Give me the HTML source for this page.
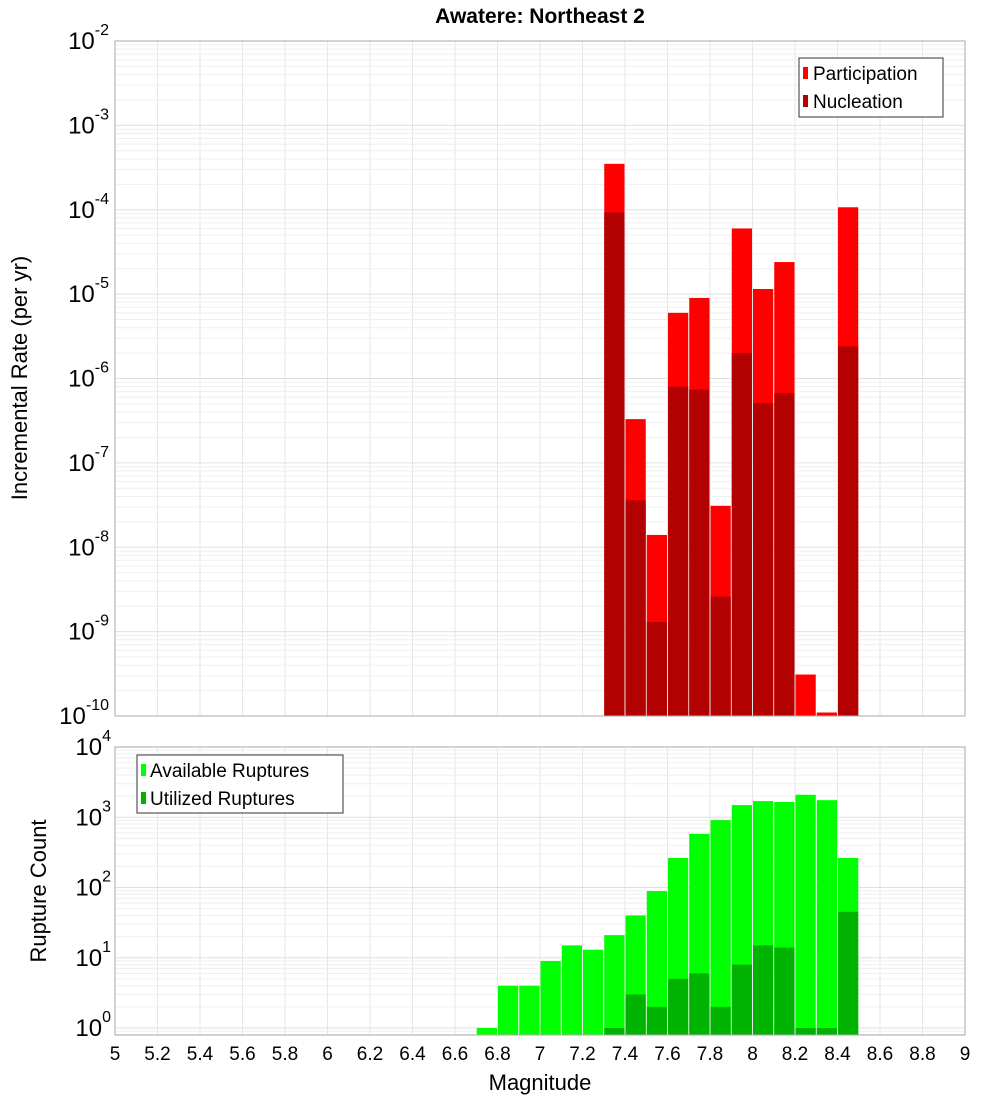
<!DOCTYPE html>
<html><head><meta charset="utf-8"><style>
body{margin:0;background:#fff;width:1000px;height:1100px;overflow:hidden}
svg{font-family:"Liberation Sans","DejaVu Sans",sans-serif}
</style></head><body>
<svg id="c" width="1000" height="1100" xmlns="http://www.w3.org/2000/svg">
<text x="540" y="23" text-anchor="middle" font-size="21" font-weight="bold">Awatere: Northeast 2</text>
<text transform="translate(27,378) rotate(-90)" text-anchor="middle" font-size="22">Incremental Rate (per yr)</text>
<text transform="translate(46,891) rotate(-90)" text-anchor="middle" font-size="22">Rupture Count</text>
<text x="540" y="1090" text-anchor="middle" font-size="22">Magnitude</text>
<g id="g"></g>
</svg>
<script>
const mags=[7.35,7.45,7.55,7.65,7.75,7.85,7.95,8.05,8.15,8.25,8.35,8.45];
const participation=[3.5e-4,3.3e-7,1.4e-8,6e-6,9e-6,3.1e-8,6e-5,1.15e-5,2.4e-5,3.1e-10,1.1e-10,1.07e-4];
const nucleation=[9.3e-5,3.6e-8,1.3e-9,8e-7,7.4e-7,2.6e-9,2e-6,5.1e-7,6.7e-7,0,0,2.4e-6];
const cmags=[6.75,6.85,6.95,7.05,7.15,7.25,7.35,7.45,7.55,7.65,7.75,7.85,7.95,8.05,8.15,8.25,8.35,8.45];
const available=[1,4,4,9,15,13,21,40,89,263,580,910,1490,1700,1650,2090,1750,263];
const utilized=[0,0,0,0,0,0,1,3,2,5,6,2,8,15,14,1,1,45];
const xTicks=[5,5.2,5.4,5.6,5.8,6,6.2,6.4,6.6,6.8,7,7.2,7.4,7.6,7.8,8,8.2,8.4,8.6,8.8,9];
const topTicks=[-2,-3,-4,-5,-6,-7,-8,-9,-10];
const botTicks=[0,1,2,3,4];

const NS="http://www.w3.org/2000/svg",g=document.getElementById('g');
const L=115,R=965;
const x=m=>L+(m-5)/4*(R-L);
const T0=41,T1=716;
const yT=v=>T0+(-2-Math.log10(v))*(T1-T0)/8;
const B0=747,B1=1035;
const yB=v=>1028-Math.log10(v)*70.25;
function el(t,a,name,txt){const e=document.createElementNS(NS,t);for(const k in a)e.setAttribute(k,a[k]);


if(txt!==undefined)e.textContent=txt;g.appendChild(e);return e;}
// plot backgrounds & grids
function grid(y0,y1,yf,decLo,decHi,name){
  for(const t of xTicks){el('line',{x1:x(t),x2:x(t),y1:y0,y2:y1,stroke:'#e6e6e6','stroke-width':1},name+'-vgrid');}
  for(let d=decLo;d<decHi;d++){for(let k=1;k<10;k++){const yy=yf(k*Math.pow(10,d));if(yy>=y0&&yy<=y1)el('line',{x1:L,x2:R,y1:yy,y2:yy,stroke:k==1?'#e0e0e0':'#efefef','stroke-width':1},name+'-hgrid');}}
}
grid(T0,T1,yT,-10,-2,'top');
grid(B0,B1,yB,-1,4,'bottom');
// top bars
const bw=(R-L)/40;
mags.forEach((m,i)=>{
  const xl=x(m)-bw/2+0.5,w=bw-1;
  if(participation[i]>0){const yy=Math.max(yT(participation[i]),T0);el('rect',{x:xl,y:yy,width:w,height:T1-yy,fill:'#ff0000'},'participation-bar');}
  if(nucleation[i]>0){const yy=Math.max(yT(nucleation[i]),T0);el('rect',{x:xl,y:yy,width:w,height:T1-yy,fill:'#b30000'},'nucleation-bar');}
});
cmags.forEach((m,i)=>{
  const xl=x(m)-bw/2+0.5,w=bw-1;
  if(available[i]>0){const yy=yB(available[i]);el('rect',{x:xl,y:yy,width:w,height:B1-yy,fill:'#00ff00'},'available-bar');}
  if(utilized[i]>0){const yy=yB(utilized[i]);el('rect',{x:xl,y:yy,width:w,height:B1-yy,fill:'#00b300'},'utilized-bar');}
});
el('rect',{x:L,y:T0,width:R-L,height:T1-T0,fill:'none',stroke:'#aaa'},'top-plot-frame');
el('rect',{x:L,y:B0,width:R-L,height:B1-B0,fill:'none',stroke:'#aaa'},'bottom-plot-frame');
// ticks labels
topTicks.forEach(t=>{const yy=yT(Math.pow(10,t));const tx=el('text',{x:L-6,y:yy+8,'text-anchor':'end','font-size':24},'top-y-tick-label');
 tx.innerHTML='10<tspan dy="-14" font-size="16">'+t+'</tspan>';});
botTicks.forEach(t=>{const yy=yB(Math.pow(10,t));const tx=el('text',{x:L-4,y:yy+8,'text-anchor':'end','font-size':24},'bottom-y-tick-label');
 tx.innerHTML='10<tspan dy="-14" font-size="16">'+t+'</tspan>';});
xTicks.forEach(t=>{el('text',{x:x(t),y:1060,'text-anchor':'middle','font-size':19},'x-tick-label',String(t));});
// legends
el('rect',{x:799,y:58,width:144,height:59,fill:'#fff',stroke:'#333'},'top-legend');
el('rect',{x:803,y:67,width:5,height:12,fill:'#ff0000'},'legend-participation-swatch');
el('text',{x:813,y:80,'font-size':19},'legend-participation','Participation');
el('rect',{x:803,y:95,width:5,height:12,fill:'#b30000'},'legend-nucleation-swatch');
el('text',{x:813,y:108,'font-size':19},'legend-nucleation','Nucleation');
el('rect',{x:137,y:755,width:206,height:58,fill:'#fff',stroke:'#333'},'bottom-legend');
el('rect',{x:141,y:764,width:5,height:12,fill:'#00ff00'},'legend-available-swatch');
el('text',{x:150,y:777,'font-size':19},'legend-available','Available Ruptures');
el('rect',{x:141,y:792,width:5,height:12,fill:'#00b300'},'legend-utilized-swatch');
el('text',{x:150,y:805,'font-size':19},'legend-utilized','Utilized Ruptures');
</script>
</body></html>
